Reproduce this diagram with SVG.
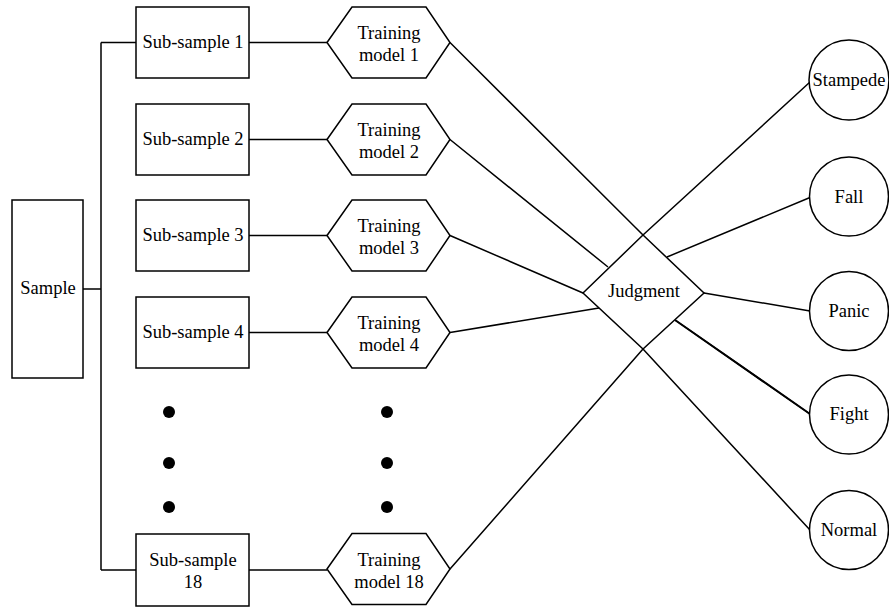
<svg xmlns="http://www.w3.org/2000/svg" width="889" height="607" viewBox="0 0 889 607" font-family="'Liberation Serif', 'Times New Roman', serif">
<style>
.s{fill:#fff;stroke:#000;stroke-width:1.5}
.l{fill:none;stroke:#000;stroke-width:1.5}
.t{font-family:'Liberation Serif','Times New Roman',serif;font-size:18.5px;fill:#000;text-anchor:middle}
</style>
<defs>
<polygon id="hex" points="-61.5,0 -36.5,-35.5 37.5,-35.5 61.5,0 37.5,35.5 -36.5,35.5"/>
</defs>
<rect width="889" height="607" fill="#fff"/>
<g id="connectors" class="l">
<path d="M83,289H101M101,42.5V570M101,42.5H136M101,570H136"/>
<path d="M249,42.5H327M249,139.5H327M249,235.5H327M249,332.5H327M249,570H327"/>
<path d="M450,42.5L643,235M450,139.5L608,267M450,235.5L583,293M450,332.5L599,308M450,569L643,349"/>
<path d="M643,235L810,82M667,257L810,197.5M704,293L810,311M675,320L810,414M643,349L810,530"/>
<path d="M675,320L810,414" stroke-width="2"/>
</g>
<g class="t">
<g id="sample"><rect class="s" x="12" y="200" width="71" height="178"/><text x="48" y="294">Sample</text></g>
<g id="sub1"><rect class="s" x="136" y="7" width="113" height="71"/><text x="193" y="48">Sub-sample 1</text></g>
<g id="sub2"><rect class="s" x="136" y="104" width="113" height="71"/><text x="193" y="145">Sub-sample 2</text></g>
<g id="sub3"><rect class="s" x="136" y="200" width="113" height="71"/><text x="193" y="241">Sub-sample 3</text></g>
<g id="sub4"><rect class="s" x="136" y="297" width="113" height="71"/><text x="193" y="338">Sub-sample 4</text></g>
<g id="sub18"><rect class="s" x="136" y="534" width="113" height="72"/><text x="193" y="566">Sub-sample</text><text x="193" y="588">18</text></g>
<g id="model1"><use href="#hex" class="s" x="388.5" y="42.5"/><text x="389" y="39">Training</text><text x="389" y="61">model 1</text></g>
<g id="model2"><use href="#hex" class="s" x="388.5" y="139.5"/><text x="389" y="136">Training</text><text x="389" y="158">model 2</text></g>
<g id="model3"><use href="#hex" class="s" x="388.5" y="235.5"/><text x="389" y="232">Training</text><text x="389" y="254">model 3</text></g>
<g id="model4"><use href="#hex" class="s" x="388.5" y="332.5"/><text x="389" y="329">Training</text><text x="389" y="351">model 4</text></g>
<g id="model18"><use href="#hex" class="s" x="388.5" y="569"/><text x="389" y="566">Training</text><text x="389" y="588">model 18</text></g>
<g id="judgment"><polygon class="s" points="583,293 643,235 704,293 643,349"/><text x="644" y="297">Judgment</text></g>
<g id="stampede"><circle class="s" cx="849" cy="80" r="40"/><text x="849" y="86">Stampede</text></g>
<g id="fall"><circle class="s" cx="849" cy="196.5" r="39.5"/><text x="849" y="203">Fall</text></g>
<g id="panic"><circle class="s" cx="849" cy="311" r="39.5"/><text x="849" y="317">Panic</text></g>
<g id="fight"><circle class="s" cx="849" cy="414.5" r="39.5"/><text x="849" y="420">Fight</text></g>
<g id="normal"><circle class="s" cx="849" cy="530" r="39.5"/><text x="849" y="536">Normal</text></g>
</g>
<g id="dots">
<circle cx="169" cy="412" r="6"/><circle cx="169" cy="463" r="6"/><circle cx="169" cy="507" r="6"/>
<circle cx="387" cy="412" r="6"/><circle cx="387" cy="463" r="6"/><circle cx="387" cy="507" r="6"/>
</g>
</svg>
